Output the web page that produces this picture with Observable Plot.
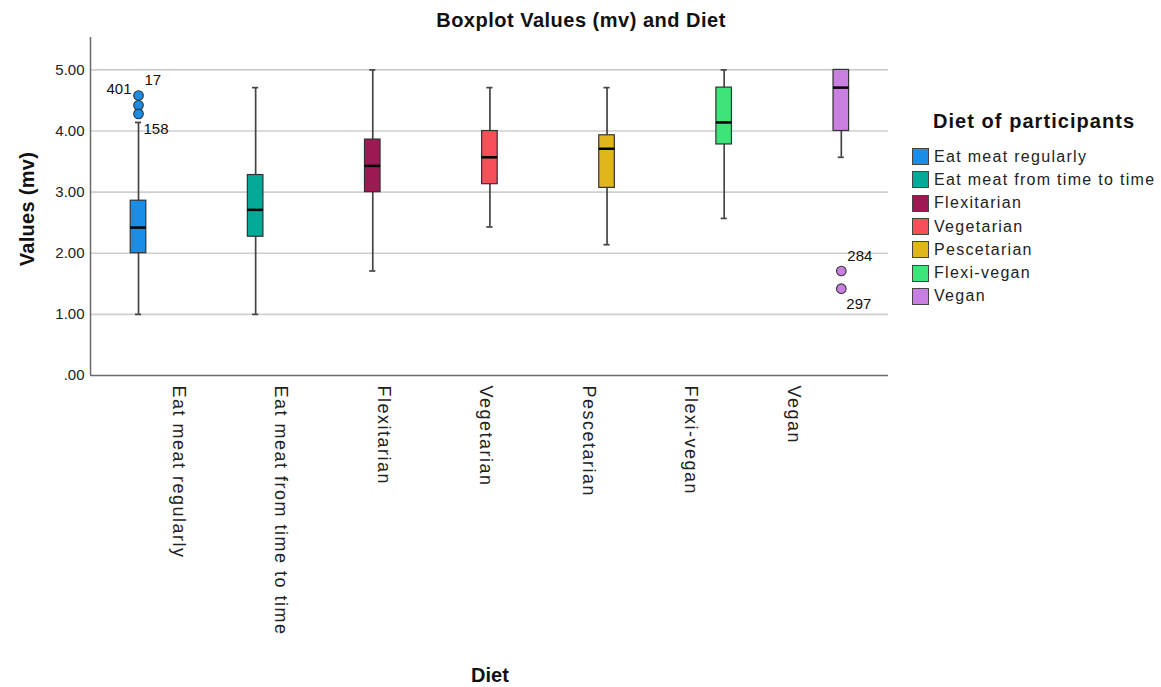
<!DOCTYPE html>
<html><head><meta charset="utf-8">
<script src="https://cdn.jsdelivr.net/npm/d3@7"></script>
<script src="https://cdn.jsdelivr.net/npm/@observablehq/plot@0.6"></script>
<style>
body{margin:0;background:#fff;font-family:"Liberation Sans",Arial,sans-serif;}
#wrap{position:relative;width:1161px;height:687px;overflow:hidden;background:#fff}
#chart{position:absolute;left:0;top:0}
.t{position:absolute;white-space:nowrap;color:#111;line-height:1}
#title{left:581px;top:10px;transform:translateX(-50%);font-weight:bold;font-size:20px;letter-spacing:0.5px}
#ytitle{left:27px;top:209px;transform:translate(-50%,-50%) rotate(-90deg);font-weight:bold;font-size:20px;letter-spacing:0.3px}
#xtitle{left:490px;top:665px;transform:translateX(-50%);font-weight:bold;font-size:20px}
#legend{position:absolute;left:912px;top:110px}
#legend .lt{font-weight:bold;font-size:20px;letter-spacing:1.05px;margin-left:21px;margin-bottom:12px;color:#111}
#legend .row{display:flex;align-items:center;height:23.3px}
#legend .sw{width:17px;height:17px;border:1px solid #444;box-sizing:border-box;margin-right:5px}
#legend .lab{font-size:16px;letter-spacing:1.3px;color:#222}
svg [aria-label="x-axis tick label"] text{font-size:18px;letter-spacing:1.5px;fill:#222}
</style></head>
<body>
<div id="wrap">
  <div id="chart"></div>
  <div class="t" id="title">Boxplot Values (mv) and Diet</div>
  <div class="t" id="ytitle">Values (mv)</div>
  <div class="t" id="xtitle">Diet</div>
  <div id="legend"></div>
</div>
<script>
const diets = ["Eat meat regularly","Eat meat from time to time","Flexitarian","Vegetarian","Pescetarian","Flexi-vegan","Vegan"];
const colors = ["#1a8ee6","#05a998","#9c1a54","#f64f58","#dfb71c","#3ee47a","#c97fe0"];
const whiskerLow  = [1.00, 1.00, 1.71, 2.43, 2.14, 2.57, 3.57];
const q1          = [2.00, 2.27, 3.00, 3.13, 3.07, 3.78, 4.00];
const median      = [2.42, 2.71, 3.43, 3.57, 3.71, 4.14, 4.71];
const q3          = [2.86, 3.28, 3.86, 4.00, 3.93, 4.71, 5.00];
const whiskerHigh = [4.14, 4.71, 5.00, 4.71, 4.71, 5.00, 5.00];
const outlierDiet  = [0, 0, 0, 6, 6];
const outlierValue = [4.58, 4.42, 4.28, 1.71, 1.42];
const outlierLabels = [
  {o: 0, label: "401", side: "left"},
  {o: 0, label: "17", side: "upright"},
  {o: 2, label: "158", side: "downright"},
  {o: 3, label: "284", side: "upright"},
  {o: 4, label: "297", side: "downright"}
];
const yTicks = [0, 1, 2, 3, 4, 5];

// clustered layout: each diet has its own band; the box sits in slot i of band i
const nSlots = diets.length;
const pos = i => i + (i - (nSlots - 1) / 2) / nSlots;
const halfBox = 0.076, halfCap = 0.03;

const boxes = diets.map((d, i) => ({
  diet: d, x: pos(i), color: colors[i],
  lo: whiskerLow[i], q1: q1[i], med: median[i], q3: q3[i], hi: whiskerHigh[i]
}));
const outliers = outlierValue.map((v, k) => ({x: pos(outlierDiet[k]), v, color: colors[outlierDiet[k]]}));
const labels = outlierLabels.map(l => ({...outliers[l.o], label: l.label, side: l.side}));

const xDomain = [-0.897, 6.889];
const yDomain = [0, 5.53];

const plot = Plot.plot({
  width: 1161, height: 687,
  marginLeft: 90, marginRight: 273, marginTop: 37, marginBottom: 312,
  style: {fontFamily: '"Liberation Sans", Arial, sans-serif', fontSize: "15px", color: "#222", background: "white"},
  x: {domain: xDomain, axis: null, label: null},
  y: {domain: yDomain, axis: null, label: null},
  marks: [
    Plot.ruleY([1, 2, 3, 4, 5], {stroke: "#cfcfcf", strokeWidth: 1.6}),
    Plot.axisY({ticks: yTicks, tickSize: 0, tickPadding: 6, label: null,
      tickFormat: v => d3.format(".2f")(v).replace(/^0\./, ".")}),
    Plot.axisX({ticks: d3.range(diets.length), tickSize: 0, tickPadding: 10, tickRotate: 90, dx: -4, label: null,
      tickFormat: i => diets[i]}),
    Plot.ruleX(boxes, {x: "x", y1: "lo", y2: "hi", stroke: "#444", strokeWidth: 1.7}),
    Plot.ruleY(boxes, {y: "lo", x1: d => d.x - halfCap, x2: d => d.x + halfCap, stroke: "#444", strokeWidth: 1.7}),
    Plot.ruleY(boxes, {y: "hi", x1: d => d.x - halfCap, x2: d => d.x + halfCap, stroke: "#444", strokeWidth: 1.7}),
    Plot.rectY(boxes, {x1: d => d.x - halfBox, x2: d => d.x + halfBox, y1: "q1", y2: "q3", fill: "color", stroke: "#333", strokeWidth: 1.2}),
    Plot.ruleY(boxes, {y: "med", x1: d => d.x - halfBox, x2: d => d.x + halfBox, stroke: "#000", strokeWidth: 2.5}),
    Plot.dot(outliers, {x: "x", y: "v", r: 4.8, fill: "color", stroke: "#333", strokeWidth: 1.1}),
    Plot.text(labels.filter(d => d.side === "left"), {x: "x", y: "v", text: "label", textAnchor: "end", dx: -7, dy: -6, fill: "#111", fontSize: 15}),
    Plot.text(labels.filter(d => d.side === "upright"), {x: "x", y: "v", text: "label", textAnchor: "start", dx: 6, dy: -15, fill: "#111", fontSize: 15}),
    Plot.text(labels.filter(d => d.side === "downright"), {x: "x", y: "v", text: "label", textAnchor: "start", dx: 5, dy: 15, fill: "#111", fontSize: 15}),
    Plot.ruleX([xDomain[0]], {y1: yDomain[0], y2: yDomain[1], stroke: "#6a6a6a", strokeWidth: 1.5}),
    Plot.ruleY([0], {x1: xDomain[0], x2: xDomain[1], stroke: "#6a6a6a", strokeWidth: 1.5})
  ]
});
document.getElementById("chart").appendChild(plot);

const leg = document.getElementById("legend");
const lt = document.createElement("div"); lt.className = "lt"; lt.textContent = "Diet of participants"; leg.appendChild(lt);
diets.forEach((d, i) => {
  const row = document.createElement("div"); row.className = "row";
  const sw = document.createElement("div"); sw.className = "sw"; sw.style.background = colors[i];
  const lab = document.createElement("span"); lab.className = "lab"; lab.textContent = d;
  row.appendChild(sw); row.appendChild(lab); leg.appendChild(row);
});
</script>
</body></html>
